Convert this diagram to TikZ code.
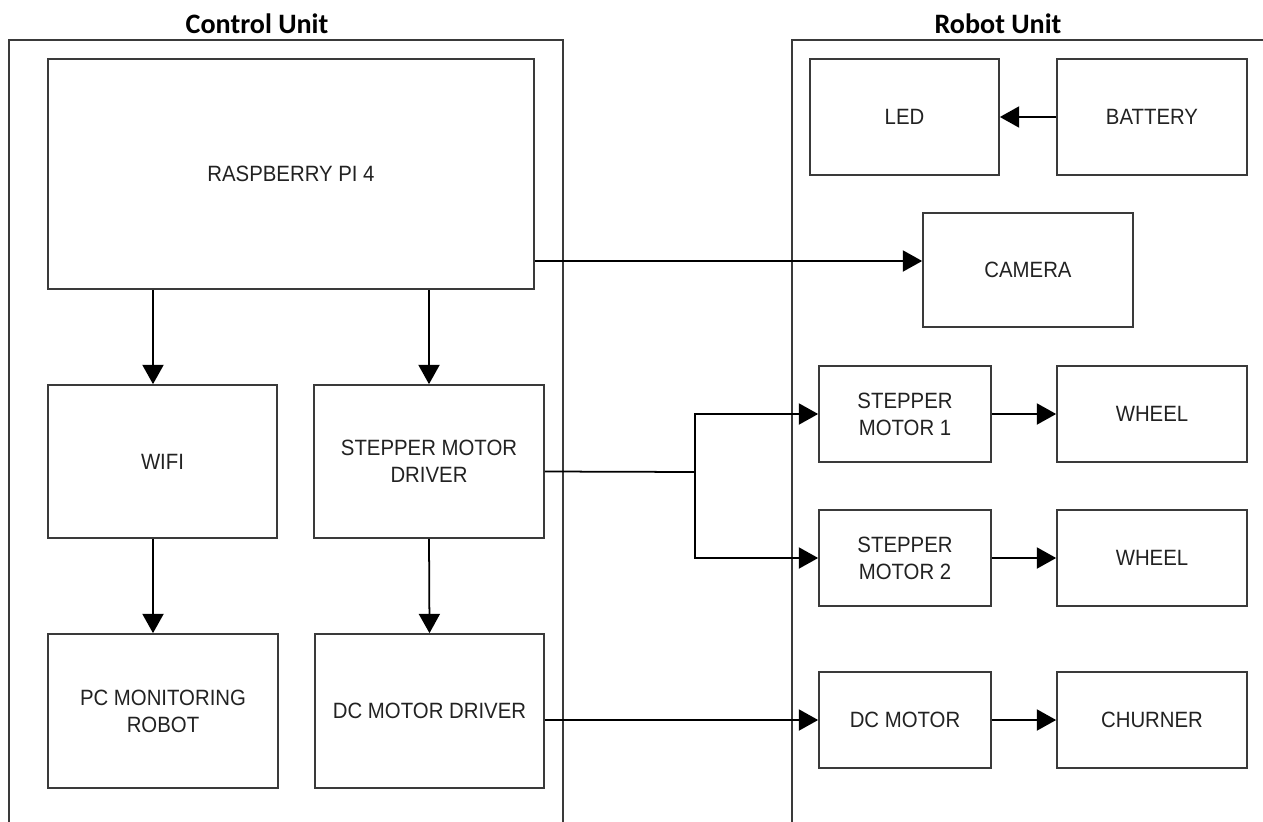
\documentclass[tikz,border=0pt]{standalone}
\usepackage{fontspec}
\setmainfont[FakeStretch=0.92]{Liberation Sans}
\newfontfamily\titlefont{Carlito}
\usetikzlibrary{arrows.meta}
\definecolor{boxline}{HTML}{3A3A3A}
\definecolor{boxtext}{HTML}{222222}

\begin{document}
\begin{tikzpicture}[
  x=0.02cm, y=-0.02cm,
  box/.style={draw=boxline, line width=1pt, align=center, inner sep=2pt,
              text=boxtext, font=\fontsize{12.6}{15.4}\selectfont},
  frame/.style={draw=boxline, line width=0.9pt},
  arr/.style={-{Triangle[length=11pt, width=12pt]}, line width=1pt},
  ttl/.style={font=\titlefont\bfseries\fontsize{16}{19}\selectfont},
]
\useasboundingbox (0,0) rectangle (1263,821);
\clip (0,0) rectangle (1263,821);

% ---- Unit frames and titles ----
\draw[frame] (9,40) rectangle (563,900);
\draw[frame] (792,40) rectangle (1300,900);
\node[ttl] (ctitle) at (257,24) {Control Unit};
\node[ttl] (rtitle) at (998,24) {Robot Unit};

% ---- Control unit ----
\node[box, minimum width=9.72cm, minimum height=4.6cm] (pi) at (291,174)
  {RASPBERRY PI 4};
\node[box, minimum width=4.58cm, minimum height=3.06cm] (wifi) at (162.5,461.5)
  {WIFI};
\node[box, minimum width=4.6cm, minimum height=3.06cm] (smd) at (429,461.5)
  {STEPPER MOTOR\\DRIVER};
\node[box, minimum width=4.6cm, minimum height=3.08cm] (pc) at (163,711)
  {PC MONITORING\\ROBOT};
\node[box, minimum width=4.58cm, minimum height=3.08cm] (dcd) at (429.5,711)
  {DC MOTOR DRIVER};

% ---- Robot unit ----
\node[box, minimum width=3.78cm, minimum height=2.32cm] (led) at (904.5,117) {LED};
\node[box, minimum width=3.8cm, minimum height=2.32cm] (bat) at (1152,117) {BATTERY};
\node[box, minimum width=4.2cm, minimum height=2.28cm] (cam) at (1028,270) {CAMERA};
\node[box, minimum width=3.44cm, minimum height=1.92cm] (sm1) at (905,414)
  {STEPPER\\MOTOR 1};
\node[box, minimum width=3.8cm, minimum height=1.92cm] (wh1) at (1152,414) {WHEEL};
\node[box, minimum width=3.44cm, minimum height=1.92cm] (sm2) at (905,558)
  {STEPPER\\MOTOR 2};
\node[box, minimum width=3.8cm, minimum height=1.92cm] (wh2) at (1152,558) {WHEEL};
\node[box, minimum width=3.44cm, minimum height=1.92cm] (dcm) at (905,720) {DC MOTOR};
\node[box, minimum width=3.8cm, minimum height=1.92cm] (chu) at (1152,720) {CHURNER};

% ---- Connectors ----
\coordinate (wtop) at ([xshift=-0.19cm]wifi.north);
\coordinate (wbot) at ([xshift=-0.19cm]wifi.south);
\coordinate (camin) at ([yshift=0.18cm]cam.west);
\coordinate (smdout) at ([yshift=-0.2cm]smd.east);
\coordinate (split) at (695,472);

\draw[arr] (pi.south -| wtop) -- (wtop);
\draw[arr] (pi.south -| smd.north) -- (smd.north);
\draw[arr] (wbot) -- (pc.north -| wbot);
\draw[arr] (smd.south) -- (dcd.north);
\draw[arr] (pi.east |- camin) -- (camin);
\draw[line width=1pt] (smdout) -- (split);
\draw[arr] (split) |- (sm1.west);
\draw[arr] (split) |- (sm2.west);
\draw[arr] (dcd.east |- dcm.west) -- (dcm.west);
\draw[arr] (bat.west) -- (led.east);
\draw[arr] (sm1.east) -- (wh1.west);
\draw[arr] (sm2.east) -- (wh2.west);
\draw[arr] (dcm.east) -- (chu.west);

\end{tikzpicture}
\end{document}
